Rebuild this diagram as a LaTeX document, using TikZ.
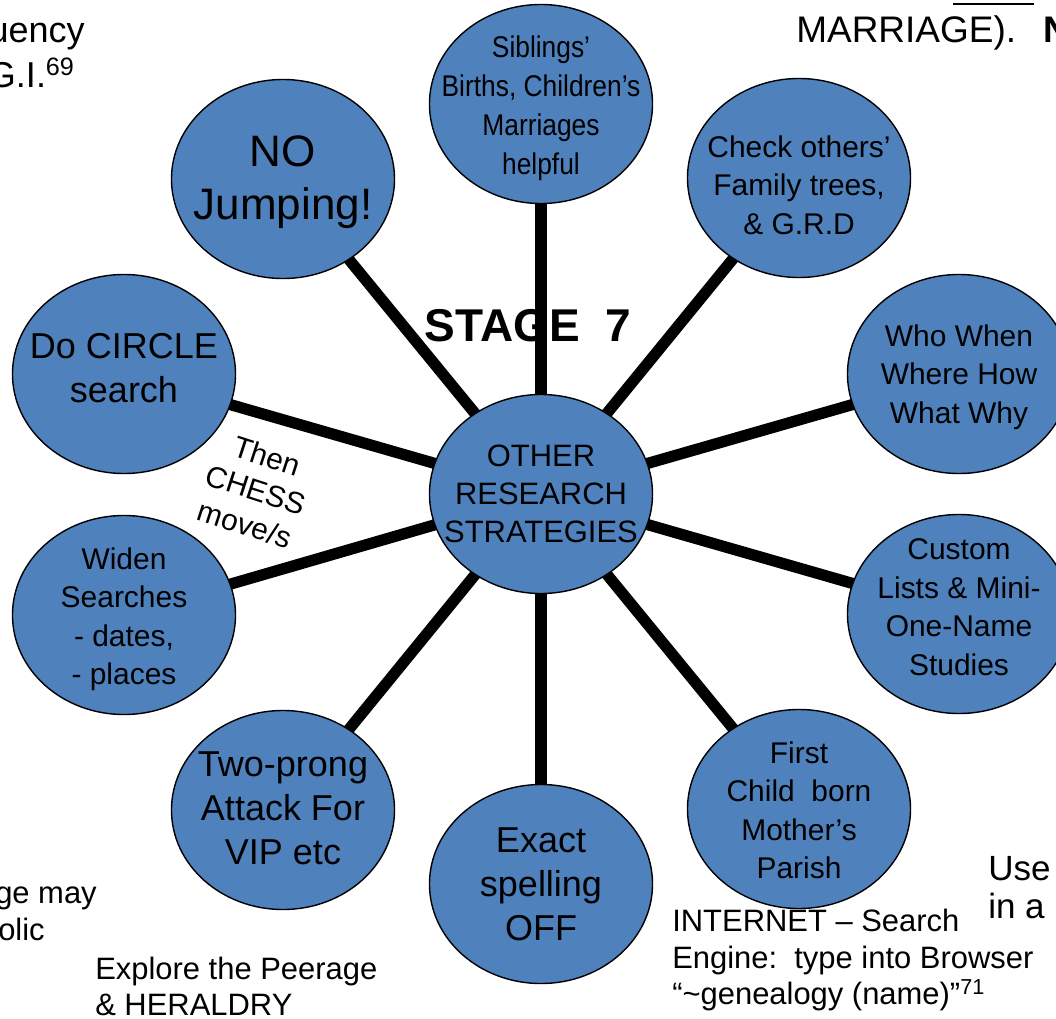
\documentclass[tikz,border=0pt]{standalone}
\usepackage{fontspec}
\setmainfont{Liberation Sans}
\newfontfamily\narrowfont[FakeStretch=0.88, Ligatures=TeX]{Liberation Sans}
\usepackage{xcolor}
\usepackage{tikz}
\usetikzlibrary{shapes.geometric,backgrounds}
\definecolor{blobcolor}{RGB}{79,129,189}

\begin{document}
\begin{tikzpicture}[x=0.025cm, y=-0.025cm,
    blob/.style={ellipse, draw=black, line width=1pt, fill=blobcolor,
      minimum width=5.575cm, minimum height=4.975cm, inner sep=0pt},
    lab/.style={align=center, inner sep=0pt, font=\fontsize{21.3}{27.4}\selectfont},
    bigLab/.style={lab, font=\fontsize{25.6}{31.3}\selectfont},
    spoke/.style={line width=8pt},
    note/.style={inner sep=0pt, align=left, font=\fontsize{22}{25.8}\selectfont}]
    \useasboundingbox (0,0) rectangle (1056,1018);

    % 中心与外圈
    \node[blob, label={[lab, font=\fontsize{22}{27}\selectfont]center:{OTHER\\RESEARCH\\STRATEGIES}}] (hub) at (541,494) {};
    \node[blob, label={[lab, yshift=-3pt, font=\narrowfont\fontsize{21.3}{27.7}\selectfont]center:{Siblings'\\Births, Children's\\Marriages\\helpful}}] (sib) at (541,104) {};
    \node[blob, label={[lab, yshift=-2pt, font=\fontsize{31.3}{37.7}\selectfont]center:{NO\\Jumping!}}] (jump) at (283,179) {};
    \node[blob, label={[lab, yshift=-5pt]center:{Check others'\\Family trees,\\\& G.R.D}}] (check) at (799,178) {};
    \node[blob, label={[lab, yshift=-2pt]center:{Who When\\Where How\\What Why}}] (who) at (959,374) {};
    \node[blob, label={[bigLab, yshift=4pt]center:{Do CIRCLE\\search}}] (circ) at (124,374) {};
    \node[blob, label={[lab, yshift=-3pt]center:{Widen\\Searches\\- dates,\\- places}}] (widen) at (124,615) {};
    \node[blob, label={[lab, yshift=5pt]center:{Custom\\Lists \& Mini-\\One-Name\\Studies}}] (custom) at (959,614) {};
    \node[blob, label={[bigLab, yshift=1pt]center:{Two-prong\\Attack For\\VIP etc}}] (prong) at (283,810) {};
    \node[blob, label={[bigLab]center:{Exact\\spelling\\OFF}}] (exact) at (541,884) {};
    \node[blob, label={[lab, yshift=-1pt]center:{First\\Child\ \ born\\Mother's\\Parish}}] (first) at (799,809) {};

    \begin{scope}[on background layer]
      \foreach \n in {sib,jump,check,who,circ,widen,custom,prong,exact,first}
        \draw[spoke] (hub.center) -- (\n.center);
    \end{scope}

    \node[font=\bfseries\fontsize{32.7}{39}\selectfont] (stage) at (528,326) {STAGE\ \ 7};
    \node[rotate=-18, align=center, inner sep=0pt, font=\fontsize{21.3}{25.6}\selectfont] (chess) at (256,490) {Then\\CHESS\\move/s};

    % 周边文字
    \node[note, anchor=base east, font=\fontsize{25.6}{32}\selectfont] (freq) at (85,43) {uency};
    \node[note, anchor=base east, font=\fontsize{25.6}{32}\selectfont] (gi) at (75,88) {G.I.\textsuperscript{69}};
    \node[note, anchor=base west, font=\fontsize{26.3}{32}\selectfont] (marr) at (796,43) {MARRIAGE).\hspace{0.75em}\textbf{N}};
    \draw[line width=2pt] (953,4) -- (1034,4);
    \node[note, anchor=base east] (may) at (97,903) {ge may};
    \node[note, anchor=base east] (olic) at (45,940) {olic};
    \node[note, anchor=north west] (peer) at (95,957) {Explore the Peerage\\\& HERALDRY};
    \node[note, anchor=north west, font=\fontsize{22}{26}\selectfont] (net) at (672,909) {INTERNET -- Search\\Engine:\ \ type into Browser\\``\textasciitilde genealogy (name)''\textsuperscript{71}};
    \node[note, anchor=north west, font=\fontsize{24.9}{27}\selectfont] (use) at (988,856) {Use\\in a};
\end{tikzpicture}
\end{document}
